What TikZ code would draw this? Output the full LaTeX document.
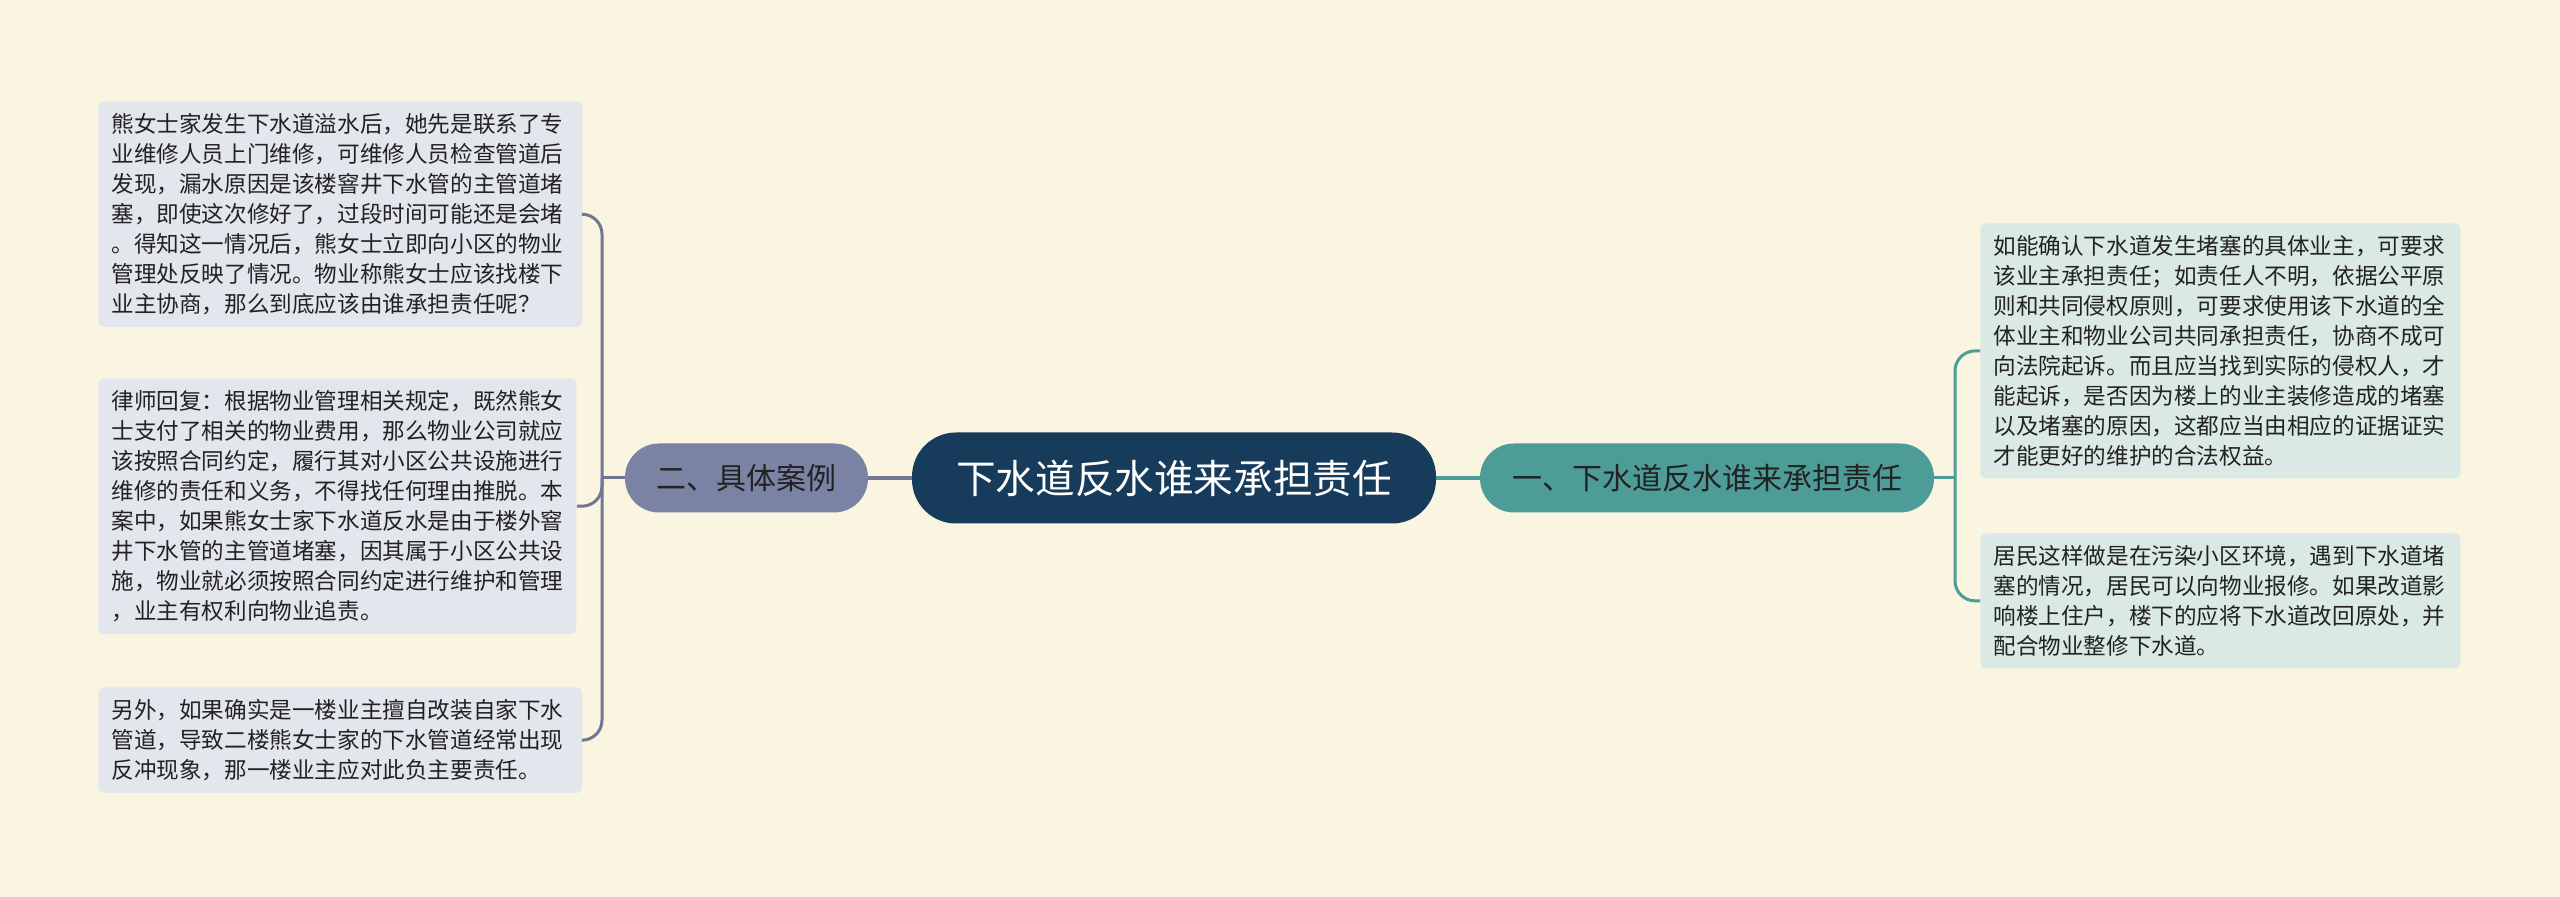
\documentclass[tikz,border=0pt]{standalone}
\usepackage{fontspec}
\setmainfont{Noto Sans CJK SC}
\usepackage{tikz}
\usetikzlibrary{positioning}

\definecolor{bgcream}{HTML}{FAF5E0}
\definecolor{rootblue}{HTML}{173B5B}
\definecolor{caseblue}{HTML}{7A83A3}
\definecolor{ruleteal}{HTML}{4E9C98}
\definecolor{caseleaf}{HTML}{E3E6ED}
\definecolor{ruleleaf}{HTML}{DAE9E6}
\definecolor{caseline}{HTML}{6E7894}
\definecolor{inktext}{HTML}{222222}

\begin{document}
\begin{tikzpicture}[x=0.5pt, y=-0.5pt,
		root/.style={fill=rootblue, text=white, rounded corners=22pt, minimum width=262pt, minimum height=45.5pt, inner sep=0pt, font=\fontsize{19.8}{24}\selectfont},
		branch/.style={fill=#1, text=inktext, rounded corners=17pt, minimum height=34.5pt, inner sep=0pt, font=\fontsize{15}{18}\selectfont},
		leaf/.style={fill=#1, text=inktext, rounded corners=3pt, inner xsep=6.5pt, inner ysep=6pt, align=left, anchor=north west, font=\fontsize{11.3}{15}\selectfont},
		tw/.style={text width=#1},
		lline/.style={draw=caseline, line width=1.5pt, rounded corners=10pt},
		rline/.style={draw=ruleteal, line width=1.5pt, rounded corners=10pt}]
		\fill[bgcream] (0,0) rectangle (2560,897);
		\useasboundingbox (0,0) rectangle (2560,897);

		\node[root] (root) at (1174,478) {下水道反水谁来承担责任};
		\node[branch=caseblue, minimum width=121.5pt] (case) at (746.5,478) {二、具体案例};
		\node[branch=ruleteal, minimum width=227pt] (rule) at (1707,478) {一、下水道反水谁来承担责任};

		\node[leaf=caseleaf, tw=229pt] (c1) at (98,101) {熊女士家发生下水道溢水后，她先是联系了专\\业维修人员上门维修，可维修人员检查管道后\\发现，漏水原因是该楼窨井下水管的主管道堵\\塞，即使这次修好了，过段时间可能还是会堵\\。得知这一情况后，熊女士立即向小区的物业\\管理处反映了情况。物业称熊女士应该找楼下\\业主协商，那么到底应该由谁承担责任呢？};
		\node[leaf=caseleaf, tw=226pt] (c2) at (98,378) {律师回复：根据物业管理相关规定，既然熊女\\士支付了相关的物业费用，那么物业公司就应\\该按照合同约定，履行其对小区公共设施进行\\维修的责任和义务，不得找任何理由推脱。本\\案中，如果熊女士家下水道反水是由于楼外窨\\井下水管的主管道堵塞，因其属于小区公共设\\施，物业就必须按照合同约定进行维护和管理\\，业主有权利向物业追责。};
		\node[leaf=caseleaf, tw=229pt] (c3) at (98,687) {另外，如果确实是一楼业主擅自改装自家下水\\管道，导致二楼熊女士家的下水管道经常出现\\反冲现象，那一楼业主应对此负主要责任。};

		\node[leaf=ruleleaf, tw=227pt] (r1) at (1980,223) {如能确认下水道发生堵塞的具体业主，可要求\\该业主承担责任；如责任人不明，依据公平原\\则和共同侵权原则，可要求使用该下水道的全\\体业主和物业公司共同承担责任，协商不成可\\向法院起诉。而且应当找到实际的侵权人，才\\能起诉，是否因为楼上的业主装修造成的堵塞\\以及堵塞的原因，这都应当由相应的证据证实\\才能更好的维护的合法权益。};
		\node[leaf=ruleleaf, tw=227pt] (r2) at (1980,533) {居民这样做是在污染小区环境，遇到下水道堵\\塞的情况，居民可以向物业报修。如果改道影\\响楼上住户，楼下的应将下水道改回原处，并\\配合物业整修下水道。};

		\coordinate (cj) at (602,478);
		\coordinate (rj) at (1955,478);

		\draw[draw=caseline, line width=2pt] (case.east) -- (root.west);
		\draw[draw=ruleteal, line width=2pt] (root.east) -- (rule.west);
		\draw[lline] (case.west) -- (cj);
		\draw[rline] (rule.east) -- (rj);
		\foreach \c in {c1,c2,c3}
			\draw[lline] (cj) |- (\c.east);
		\foreach \r in {r1,r2}
			\draw[rline] (rj) |- (\r.west);

	\end{tikzpicture}
\end{document}
